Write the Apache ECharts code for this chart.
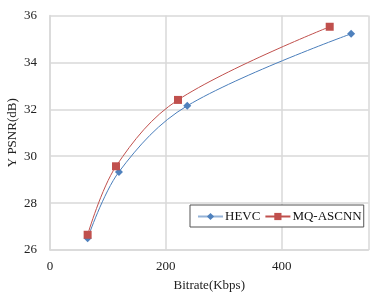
<!DOCTYPE html>
<html><head><meta charset="utf-8">
<script src="https://cdn.jsdelivr.net/npm/echarts@6/dist/echarts.min.js"></script>
<style>html,body{margin:0;padding:0;background:#fff}#c{width:374px;height:296px}</style>
</head><body><div id="c"></div>
<script>
const hevcX = [65, 119, 237, 520];
const hevcY = [26.5, 29.33, 32.15, 35.22];
const mqX = [65, 114, 221, 483];
const mqY = [26.65, 29.57, 32.4, 35.52];
const seriesNames = ['HEVC', 'MQ-ASCNN'];
const xTicks = [0, 200, 400];
const yTicks = [26, 28, 30, 32, 34, 36];

const pair = (xs, ys) => xs.map((x, i) => [x, ys[i]]);
const font = 'Liberation Serif';
const chart = echarts.init(document.getElementById('c'));
chart.setOption({
  animation: false,
  grid: { left: 50, right: 5.5, top: 15.5, bottom: 46, containLabel: false, outerBoundsMode: 'none' },
  xAxis: {
    type: 'value', min: 0, max: 550, interval: 200,
    name: 'Bitrate(Kbps)', nameLocation: 'middle', nameGap: 29, nameMoveOverlap: false,
    nameTextStyle: { fontFamily: font, fontSize: 13, color: '#222' },
    axisLine: { show: true, lineStyle: { color: '#d9d9d9', width: 1.5 } },
    axisTick: { show: false },
    axisLabel: { fontFamily: font, fontSize: 13, color: '#222', margin: 10, showMaxLabel: false,
      formatter: v => xTicks.includes(v) ? String(v) : '' },
    splitLine: { show: true, lineStyle: { color: '#d9d9d9', width: 1.5 } }
  },
  yAxis: {
    type: 'value', min: 26, max: 36, interval: 2,
    name: 'Y PSNR(dB)', nameLocation: 'middle', nameGap: 31, nameRotate: 90, nameMoveOverlap: false,
    nameTextStyle: { fontFamily: font, fontSize: 13, color: '#222' },
    axisLine: { show: true, lineStyle: { color: '#d9d9d9', width: 1.5 } },
    axisTick: { show: false },
    axisLabel: { fontFamily: font, fontSize: 13, color: '#222', margin: 13,
      formatter: v => yTicks.includes(v) ? String(v) : '' },
    splitLine: { show: true, lineStyle: { color: '#d9d9d9', width: 1.5 } }
  },
  legend: {
    left: 190, top: 205, width: 176,
    padding: [5, 2, 4, 7], itemGap: 4, itemWidth: 25, itemHeight: 9,
    borderColor: '#555', borderWidth: 1, backgroundColor: '#fff',
    textStyle: { fontFamily: font, fontSize: 13, color: '#111', padding: [0,0,0,-3] },
    data: [
      { name: seriesNames[0], itemStyle: { color: '#4F81BD' }, lineStyle: { color: '#95B3D7', width: 2 } },
      { name: seriesNames[1], itemStyle: { color: '#C0504D' }, lineStyle: { color: '#C0504D', width: 2 } }
    ]
  },
  series: [
    { name: seriesNames[0], type: 'line', data: pair(hevcX, hevcY), smooth: 0.35,
      symbol: 'diamond', symbolSize: 8,
      lineStyle: { color: '#4A7EBB', width: 1 },
      itemStyle: { color: '#4F81BD' } },
    { name: seriesNames[1], type: 'line', data: pair(mqX, mqY), smooth: 0.35,
      symbol: 'rect', symbolSize: 8,
      lineStyle: { color: '#C0504D', width: 1 },
      itemStyle: { color: '#C0504D' } }
  ]
});
</script></body></html>
